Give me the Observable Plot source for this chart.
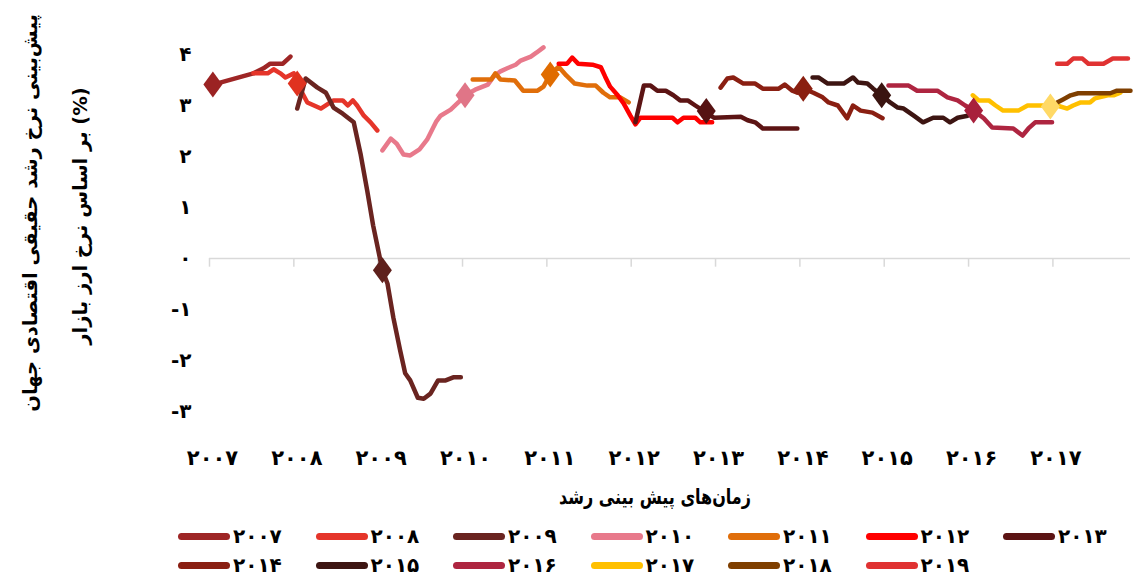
<!DOCTYPE html>
<html>
<head>
<meta charset="utf-8">
<script src="https://cdn.jsdelivr.net/npm/d3@7"></script>
<script src="https://cdn.jsdelivr.net/npm/@observablehq/plot@0.6"></script>
<style>
  html, body { margin: 0; padding: 0; background: #fff; }
  #wrap { position: relative; width: 1134px; height: 577px; overflow: hidden; font-family: "DejaVu Sans", sans-serif; }
  #legend { position: relative; width: 1134px; height: 62px; }
  .item { position: absolute; height: 24px; display: flex; align-items: center; }
  .sw { display: inline-block; width: 52px; height: 7px; border-radius: 3.5px; }
  .lab { font-family: "DejaVu Sans", sans-serif; font-weight: bold; font-size: 20px; color: #000; margin-left: 3px; line-height: 24px; }
</style>
</head>
<body>
<div id="wrap"><div id="chart"></div><div id="legend"></div></div>
<script>
// ---- data (forecast date in decimal years, forecast growth %) ----
const years  = ["2007","2008","2009","2010","2011","2012","2013","2014","2015","2016","2017","2018","2019"];
const yearLabels = ["۲۰۰۷","۲۰۰۸","۲۰۰۹","۲۰۱۰","۲۰۱۱","۲۰۱۲","۲۰۱۳","۲۰۱۴","۲۰۱۵","۲۰۱۶","۲۰۱۷","۲۰۱۸","۲۰۱۹"];
const colors = ["#9e2626","#e5352a","#6a2420","#e8798b","#e06e0a","#ff0000","#5c1414","#8a1f12","#3d1512","#ae2540","#ffc000","#7f3f00","#e03232"];

const f2007 = [[2007.04,3.41],[2007.52,3.63],[2007.64,3.73],[2007.72,3.82],[2007.87,3.82],[2007.96,3.96]];
const f2008 = [[2007.52,3.63],[2007.69,3.63],[2007.76,3.71],[2007.84,3.63],[2007.90,3.55],[2008.00,3.63],[2008.04,3.43],[2008.16,3.06],[2008.32,2.94],[2008.47,3.10],[2008.58,3.10],[2008.64,3.00],[2008.70,3.10],[2008.75,3.00],[2008.83,2.80],[2008.91,2.67],[2008.99,2.51]];
const f2009 = [[2008.04,2.94],[2008.14,3.53],[2008.28,3.35],[2008.38,3.25],[2008.47,2.96],[2008.58,2.84],[2008.71,2.67],[2008.79,2.06],[2008.87,1.33],[2008.94,0.65],[2009.05,-0.23],[2009.11,-0.49],[2009.18,-1.16],[2009.26,-1.80],[2009.32,-2.25],[2009.38,-2.39],[2009.47,-2.73],[2009.54,-2.75],[2009.62,-2.65],[2009.71,-2.39],[2009.80,-2.39],[2009.89,-2.33],[2009.98,-2.33]];
const f2010 = [[2009.05,2.12],[2009.15,2.35],[2009.22,2.25],[2009.30,2.04],[2009.38,2.02],[2009.49,2.14],[2009.58,2.33],[2009.69,2.69],[2009.74,2.80],[2009.86,2.92],[2009.95,3.06],[2010.03,3.20],[2010.15,3.31],[2010.30,3.41],[2010.37,3.57],[2010.45,3.67],[2010.53,3.73],[2010.63,3.80],[2010.69,3.88],[2010.81,3.96],[2010.88,4.04],[2010.96,4.14]];
const f2011 = [[2010.12,3.51],[2010.34,3.51],[2010.39,3.63],[2010.45,3.51],[2010.62,3.49],[2010.72,3.29],[2010.89,3.29],[2010.96,3.37],[2011.04,3.61],[2011.14,3.76],[2011.23,3.59],[2011.33,3.43],[2011.48,3.39],[2011.58,3.39],[2011.67,3.25],[2011.75,3.16],[2011.87,3.16],[2011.97,3.06]];
const f2012 = [[2011.14,3.82],[2011.24,3.82],[2011.30,3.94],[2011.37,3.82],[2011.54,3.80],[2011.64,3.75],[2011.69,3.57],[2011.75,3.37],[2011.84,3.20],[2011.91,3.04],[2011.99,2.80],[2012.05,2.63],[2012.11,2.76],[2012.49,2.76],[2012.55,2.67],[2012.62,2.76],[2012.76,2.76],[2012.82,2.67],[2012.96,2.67]];
const f2013 = [[2012.05,2.67],[2012.15,3.39],[2012.23,3.39],[2012.31,3.29],[2012.41,3.29],[2012.50,3.20],[2012.58,3.10],[2012.67,3.10],[2012.76,3.00],[2012.89,2.86],[2012.98,2.76],[2013.30,2.78],[2013.38,2.71],[2013.47,2.67],[2013.56,2.55],[2013.97,2.55]];
const f2014 = [[2013.06,3.35],[2013.14,3.53],[2013.21,3.55],[2013.33,3.43],[2013.47,3.43],[2013.56,3.33],[2013.75,3.33],[2013.82,3.41],[2013.91,3.29],[2013.97,3.25],[2014.04,3.33],[2014.16,3.25],[2014.27,3.16],[2014.34,3.06],[2014.45,3.00],[2014.56,2.75],[2014.63,3.00],[2014.72,2.90],[2014.86,2.86],[2014.98,2.75]];
const f2015 = [[2014.15,3.55],[2014.22,3.55],[2014.33,3.43],[2014.52,3.43],[2014.63,3.55],[2014.69,3.45],[2014.80,3.43],[2014.87,3.33],[2014.97,3.20],[2015.07,3.06],[2015.16,2.96],[2015.23,2.94],[2015.35,2.80],[2015.46,2.67],[2015.58,2.76],[2015.70,2.76],[2015.78,2.67],[2015.87,2.76],[2015.99,2.80]];
const f2016 = [[2015.05,3.39],[2015.29,3.39],[2015.39,3.29],[2015.63,3.29],[2015.75,3.16],[2015.87,3.10],[2015.96,3.00],[2016.06,2.90],[2016.18,2.75],[2016.28,2.57],[2016.53,2.55],[2016.64,2.41],[2016.71,2.55],[2016.79,2.67],[2016.99,2.67]];
const f2017 = [[2016.05,3.20],[2016.12,3.10],[2016.24,3.10],[2016.32,3.00],[2016.41,2.90],[2016.59,2.90],[2016.70,3.00],[2016.82,3.00],[2016.97,3.00],[2017.05,3.00],[2017.17,2.94],[2017.24,3.00],[2017.33,3.06],[2017.44,3.06],[2017.50,3.14],[2017.65,3.20],[2017.72,3.20],[2017.80,3.25]];
const f2018 = [[2017.05,3.06],[2017.12,3.12],[2017.21,3.20],[2017.30,3.24],[2017.68,3.24],[2017.76,3.29],[2017.92,3.29]];
const f2019 = [[2017.05,3.82],[2017.17,3.82],[2017.24,3.92],[2017.35,3.92],[2017.42,3.82],[2017.60,3.82],[2017.71,3.92],[2017.89,3.92]];

// January-forecast markers
const markerYears  = ["2007","2008","2009","2010","2011","2013","2014","2015","2016","2017"];
const markerT      = [2007.04, 2008.04, 2009.05, 2010.03, 2011.04, 2012.89, 2014.04, 2014.97, 2016.06, 2016.97];
const markerV      = [3.41, 3.43, -0.23, 3.20, 3.61, 2.89, 3.33, 3.20, 2.90, 2.98];
const markerColors = ["#9b2323","#e0321f","#5e201c","#e07587","#e06c00","#561212","#8a1f10","#3a1410","#a8203c","#ffd966"];

const xTickValues = [2007,2008,2009,2010,2011,2012,2013,2014,2015,2016,2017];
const xTickLabels = ["۲۰۰۷","۲۰۰۸","۲۰۰۹","۲۰۱۰","۲۰۱۱","۲۰۱۲","۲۰۱۳","۲۰۱۴","۲۰۱۵","۲۰۱۶","۲۰۱۷"];
const yTickValues = [-3,-2,-1,0,1,2,3,4];
const yTickLabels = ["-۳","-۲","-۱","۰","۱","۲","۳","۴"];

const yTitle1 = "پیش‌بینی نرخ رشد حقیقی اقتصادی جهان";
const yTitle2 = "بر اساس نرخ ارز بازار (%)";
const xTitle  = "زمان‌های پیش بینی رشد";

// ---- build table ----
const seriesList = [f2007,f2008,f2009,f2010,f2011,f2012,f2013,f2014,f2015,f2016,f2017,f2018,f2019];
const table = [];
seriesList.forEach((arr, i) => arr.forEach(([t, v]) => table.push({name: years[i], t, v})));

const tallDiamond = {
  draw(context, size) {
    const r = Math.sqrt(size / Math.PI);
    const w = r * 0.73;
    context.moveTo(0, -r);
    context.lineTo(w, 0);
    context.lineTo(0, r);
    context.lineTo(-w, 0);
    context.closePath();
  }
};

const diamondMarks = markerYears.map((y, i) =>
  Plot.dot([{t: markerT[i], v: markerV[i]}], {x: "t", y: "v", r: 13, fill: markerColors[i], stroke: "none", symbol: tallDiamond})
);

const chart = Plot.plot({
  width: 1134,
  height: 515,
  marginLeft: 209,
  marginRight: 4,
  marginTop: 38.7,
  marginBottom: 83.6,
  style: {fontFamily: "DejaVu Sans, sans-serif", fontSize: "20px", fontWeight: "bold", color: "#000", background: "#fff"},
  x: {domain: [2007, 2017.92], label: null},
  y: {domain: [-3.4, 4.3], label: null},
  color: {domain: years, range: colors},
  marks: [
    Plot.ruleY([0], {stroke: "#d9d9d9", strokeWidth: 1.5}),
    Plot.ruleX(xTickValues, {x: d => d, y1: 0, y2: -0.17, stroke: "#d9d9d9", strokeWidth: 1.5}),
    Plot.axisX({ticks: xTickValues, tickFormat: d => xTickLabels[xTickValues.indexOf(d)], tickSize: 0, tickPadding: 18, dx: 3, label: null, fill: "#000", fontSize: 21}),
    Plot.axisY({ticks: yTickValues, tickFormat: d => yTickLabels[yTickValues.indexOf(d)], tickSize: 0, tickPadding: 18, label: null, fill: "#000", fontSize: 20}),
    Plot.line(table, {x: "t", y: "v", z: "name", stroke: "name", strokeWidth: 4.5, strokeLinejoin: "round", strokeLinecap: "round"}),
    ...diamondMarks
  ]
});
document.getElementById("chart").appendChild(chart);

// axis titles
const svg = d3.select(chart);
svg.append("text")
  .attr("transform", "translate(30,213) rotate(-90)")
  .attr("text-anchor", "middle").attr("dy", "0.35em")
  .attr("font-size", 19.5).attr("font-weight", "bold").attr("fill", "#000")
  .text(yTitle1);
svg.append("text")
  .attr("transform", "translate(80,216) rotate(-90)")
  .attr("text-anchor", "middle").attr("dy", "0.35em")
  .attr("font-size", 19.5).attr("font-weight", "bold").attr("fill", "#000")
  .text(yTitle2);
svg.append("text")
  .attr("transform", "translate(655,497)")
  .attr("text-anchor", "middle").attr("dy", "0.35em")
  .attr("font-size", 21).attr("font-weight", "bold").attr("fill", "#000")
  .attr("textLength", 192).attr("lengthAdjust", "spacingAndGlyphs")
  .text(xTitle);

// legend
const legend = document.getElementById("legend");
years.forEach((y, i) => {
  const row = i < 7 ? 0 : 1;
  const col = i < 7 ? i : i - 7;
  const item = document.createElement("div");
  item.className = "item";
  item.style.left = (178 + col * 137.5) + "px";
  item.style.top = (9 + row * 29) + "px";
  const sw = document.createElement("span");
  sw.className = "sw";
  sw.style.background = colors[i];
  const lab = document.createElement("span");
  lab.className = "lab";
  lab.textContent = yearLabels[i];
  item.appendChild(sw);
  item.appendChild(lab);
  legend.appendChild(item);
});
</script>
</body>
</html>
